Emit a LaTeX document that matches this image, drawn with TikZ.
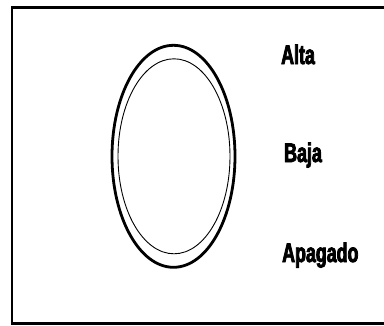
\documentclass[tikz,border=0pt]{standalone}
\usepackage{fontspec}
\newfontfamily\narrowbold[FakeStretch=0.66, FakeBold=3]{Liberation Sans Bold}
\usetikzlibrary{positioning}
\tikzset{
  setting/.style = {font=\narrowbold\fontsize{27}{30}\selectfont, inner sep=0pt, anchor=base west},
  knobrim/.style = {line width=2.8pt},
  knobface/.style = {line width=0.9pt}
}

\begin{document}
\begin{tikzpicture}[x=1pt,y=-1pt]
  \useasboundingbox (0,0) rectangle (384,325);
  \clip (0,0) rectangle (384,325);
  % frame, runs off the right side
  \draw[line width=2.6pt] (12,7.5) rectangle (400,323.5);

  % the knob
  \coordinate (knob) at (173.5,156.3);
  \draw[knobrim] (knob) ellipse [x radius=61.5, y radius=111];
  \draw[knobface] ([xshift=0.5pt]knob) ellipse [x radius=56, y radius=97.5];

  % settings
  \node[setting] (alta) at (281,64) {Alta};
  \node[setting] (baja) at (284,162) {Baja};
  \node[setting] (apagado) at (282,262) {Apagado};
\end{tikzpicture}
\end{document}
